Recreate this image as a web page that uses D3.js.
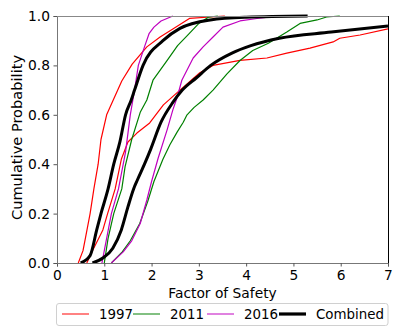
<!DOCTYPE html>
<html lang="en">
<head>
<meta charset="UTF-8">
<title>Factor of Safety CDF</title>
<script src="https://cdn.jsdelivr.net/npm/d3@7"></script>
<style>
    body { margin: 0; background: #fff; }
    text { font-family: "DejaVu Sans", sans-serif; fill: #000; }
</style>
</head>
<body>
<svg id="chart" width="414" height="334"></svg>
<script>
// [factor of safety, cumulative probability]
const red1997Low = [[0.45,0],[0.55,0.05],[0.6,0.1],[0.7,0.2],[0.78,0.3],[0.87,0.4],[0.93,0.5],[1.05,0.6],[1.18,0.656],[1.37,0.737],[1.59,0.805],[1.9,0.875],[2.18,0.915],[2.45,0.947],[2.8,0.99],[3.55,1.0]];
const red1997High = [[0.63,0],[0.75,0.05],[0.97,0.134],[1.07,0.2],[1.23,0.3],[1.36,0.42],[1.5,0.49],[1.69,0.526],[1.96,0.567],[2.25,0.64],[2.6,0.7],[3.02,0.77],[3.3,0.8],[3.87,0.82],[4.44,0.83],[4.86,0.85],[5.35,0.87],[5.84,0.895],[5.98,0.91],[6.41,0.923],[7.0,0.948]];
const green2011Low = [[1.0,0],[1.08,0.1],[1.2,0.2],[1.37,0.3],[1.44,0.39],[1.58,0.5],[1.76,0.61],[1.9,0.66],[2.03,0.74],[2.33,0.82],[2.55,0.88],[2.8,0.93],[3.0,0.97],[3.2,0.995],[3.4,1.0]];
const green2011High = [[1.15,0],[1.38,0.045],[1.55,0.09],[1.75,0.16],[1.92,0.25],[2.05,0.33],[2.24,0.42],[2.39,0.48],[2.54,0.53],[2.67,0.57],[2.75,0.6],[2.9,0.63],[3.09,0.66],[3.3,0.7],[3.59,0.765],[3.87,0.82],[4.14,0.86],[4.47,0.89],[4.86,0.935],[5.14,0.97],[5.5,0.984],[5.7,0.996],[5.98,1.0]];
const mag2016Low = [[0.95,0],[1.0,0.05],[1.08,0.13],[1.15,0.2],[1.3,0.3],[1.45,0.45],[1.55,0.6],[1.64,0.7],[1.72,0.8],[1.85,0.875],[1.95,0.93],[2.05,0.955],[2.2,0.98],[2.45,1.0]];
const mag2016High = [[1.15,0],[1.4,0.045],[1.58,0.09],[1.76,0.16],[1.9,0.255],[2.0,0.33],[2.14,0.425],[2.33,0.54],[2.45,0.62],[2.54,0.67],[2.64,0.74],[2.88,0.83],[3.09,0.875],[3.3,0.915],[3.51,0.955],[3.87,0.98],[4.23,0.99],[4.7,1.0]];
const combinedLow = [[0.5,0],[0.7,0.03],[0.84,0.134],[0.93,0.2],[1.08,0.3],[1.2,0.4],[1.33,0.49],[1.45,0.6],[1.57,0.66],[1.64,0.7],[1.82,0.8],[2.24,0.9],[2.6,0.95],[3.24,0.984],[4.0,0.995],[5.3,1.0]];
const combinedHigh = [[0.75,0],[0.97,0.02],[1.18,0.06],[1.36,0.134],[1.5,0.227],[1.62,0.3],[1.7,0.336],[1.85,0.4],[1.98,0.46],[2.2,0.57],[2.45,0.65],[2.65,0.7],[2.95,0.75],[3.25,0.8],[3.7,0.85],[4.1,0.88],[4.7,0.91],[5.8,0.935],[7.0,0.96]];

const xTicks = [0, 1, 2, 3, 4, 5, 6, 7];
const yTicks = [0, 0.2, 0.4, 0.6, 0.8, 1.0];
const legendNames = ["1997", "2011", "2016", "Combined"];

const margin = {top: 16, right: 26, bottom: 71, left: 57};
const W = 414, H = 334;
const w = W - margin.left - margin.right;
const h = H - margin.top - margin.bottom;

const svg = d3.select("#chart");
const g = svg.append("g").attr("transform", `translate(${margin.left},${margin.top})`);

const x = d3.scaleLinear().domain([0, 7]).range([0, w]);
const y = d3.scaleLinear().domain([0, 1]).range([h, 0]);

svg.append("defs").append("clipPath").attr("id", "clip")
    .append("rect").attr("x", 0).attr("y", -2).attr("width", w).attr("height", h + 2);

const series = [
    {pts: red1997Low, color: "#ff0000", width: 1.2, curve: d3.curveLinear},
    {pts: red1997High, color: "#ff0000", width: 1.2, curve: d3.curveLinear},
    {pts: green2011Low, color: "#008000", width: 1.2, curve: d3.curveLinear},
    {pts: green2011High, color: "#008000", width: 1.2, curve: d3.curveLinear},
    {pts: mag2016Low, color: "#bf00bf", width: 1.2, curve: d3.curveLinear},
    {pts: mag2016High, color: "#bf00bf", width: 1.2, curve: d3.curveLinear},
    {pts: combinedLow, color: "#000", width: 3, curve: d3.curveMonotoneX},
    {pts: combinedHigh, color: "#000", width: 3, curve: d3.curveMonotoneX}
];

const plot = g.append("g").attr("clip-path", "url(#clip)");
series.forEach(s => {
    const line = d3.line().x(d => x(d[0])).y(d => y(d[1])).curve(s.curve);
    plot.append("path")
        .datum(s.pts)
        .attr("d", line)
        .attr("fill", "none")
        .attr("stroke", s.color)
        .attr("stroke-width", s.width)
        .attr("stroke-linejoin", "round");
});

// axes
const xAxis = g.append("g").attr("transform", `translate(0,${h})`)
    .call(d3.axisBottom(x).tickValues(xTicks).tickFormat(d3.format("d")).tickSize(3.5).tickPadding(3.5));
const yAxis = g.append("g")
    .call(d3.axisLeft(y).tickValues(yTicks).tickFormat(d3.format(".1f")).tickSize(3.5).tickPadding(3.5));
[xAxis, yAxis].forEach(a => {
    a.selectAll("text").style("font-size", "13.8px").style("font-family", "DejaVu Sans");
    a.selectAll("line").attr("stroke", "#555");
    a.select(".domain").attr("stroke", "#777");
});

// top and right spines
g.append("line").attr("x1", 0).attr("x2", w).attr("y1", 0.5).attr("y2", 0.5)
    .attr("stroke", "#888").attr("stroke-width", 1);
g.append("line").attr("x1", w + 0.5).attr("x2", w + 0.5).attr("y1", 0).attr("y2", h)
    .attr("stroke", "#000").attr("stroke-width", 1);

// axis labels
g.append("text").attr("x", w / 2).attr("y", h + 34.5)
    .attr("text-anchor", "middle").style("font-size", "13.8px").text("Factor of Safety");
g.append("text").attr("transform", `translate(${-35},${h / 2 - 2}) rotate(-90)`)
    .attr("text-anchor", "middle").style("font-size", "14.6px").text("Cumulative Probability");

// legend
const legendColors = ["#ff0000", "#008000", "#bf00bf", "#000"];
const legendWidths = [1.8, 1.8, 1.8, 3.2];
const legendOpacity = [0.55, 0.55, 0.55, 1];
const legendX = [5, 76, 150, 222];
const leg = g.append("g").attr("transform", `translate(0,${h + 40})`);
leg.append("rect").attr("x", -0.5).attr("y", 0.5).attr("width", w + 0.5).attr("height", 22)
    .attr("rx", 2.5).attr("fill", "#fff").attr("stroke", "#d0d0d0");
legendNames.forEach((name, i) => {
    leg.append("line").attr("x1", legendX[i]).attr("x2", legendX[i] + 27)
        .attr("y1", 11).attr("y2", 11)
        .attr("stroke", legendColors[i]).attr("stroke-width", legendWidths[i])
        .attr("stroke-opacity", legendOpacity[i]);
    leg.append("text").attr("x", legendX[i] + 37).attr("y", 16)
        .style("font-size", "13.4px").text(name);
});
</script>
</body>
</html>
